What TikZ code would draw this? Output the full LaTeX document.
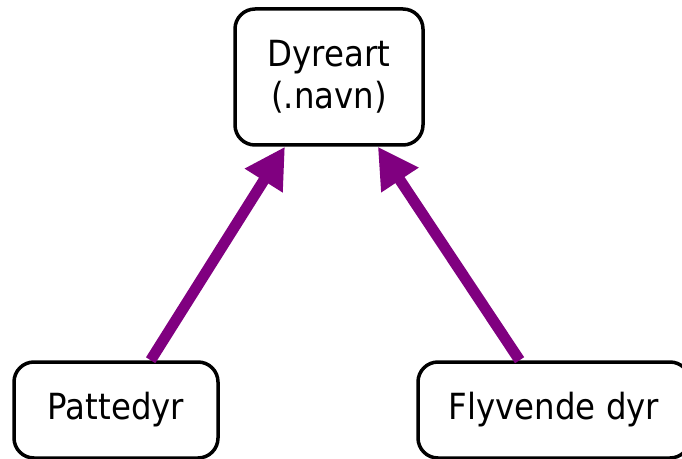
\documentclass[tikz,border=0pt]{standalone}
\usepackage{fontspec}
\setmainfont{DejaVu Sans Condensed}
\usetikzlibrary{arrows.meta,calc}
\definecolor{arrowpurple}{HTML}{800080}
\begin{document}
\begin{tikzpicture}[x=1pt,y=1pt,
  box/.style={draw=black,line width=3.5pt,rounded corners=20pt,fill=white,inner sep=0pt,align=center,
    font=\fontsize{36}{42}\selectfont},
  link/.style={draw=arrowpurple,line width=11pt,-{Triangle[length=40pt,width=42pt]}}]
\useasboundingbox (0,0) rectangle (682,458);
\begin{scope}
\clip (0,0) rectangle (682,458);
\node[box,minimum width=188pt,minimum height=136pt] (dyr) at (329,381) {Dyreart\\(.navn)};
\node[box,minimum width=204pt,minimum height=96pt] (pat) at (116,48) {Pattedyr};
\node[box,minimum width=272pt,minimum height=96pt] (fly) at (554,48) {Flyvende dyr};
\draw[link] ($(pat.north west)!0.667!(pat.north east)$) -- ($(dyr.south west)!0.27!(dyr.south east)$);
\draw[link] ($(fly.north west)!0.375!(fly.north east)$) -- ($(dyr.south west)!0.755!(dyr.south east)$);
\end{scope}
\end{tikzpicture}
\end{document}
